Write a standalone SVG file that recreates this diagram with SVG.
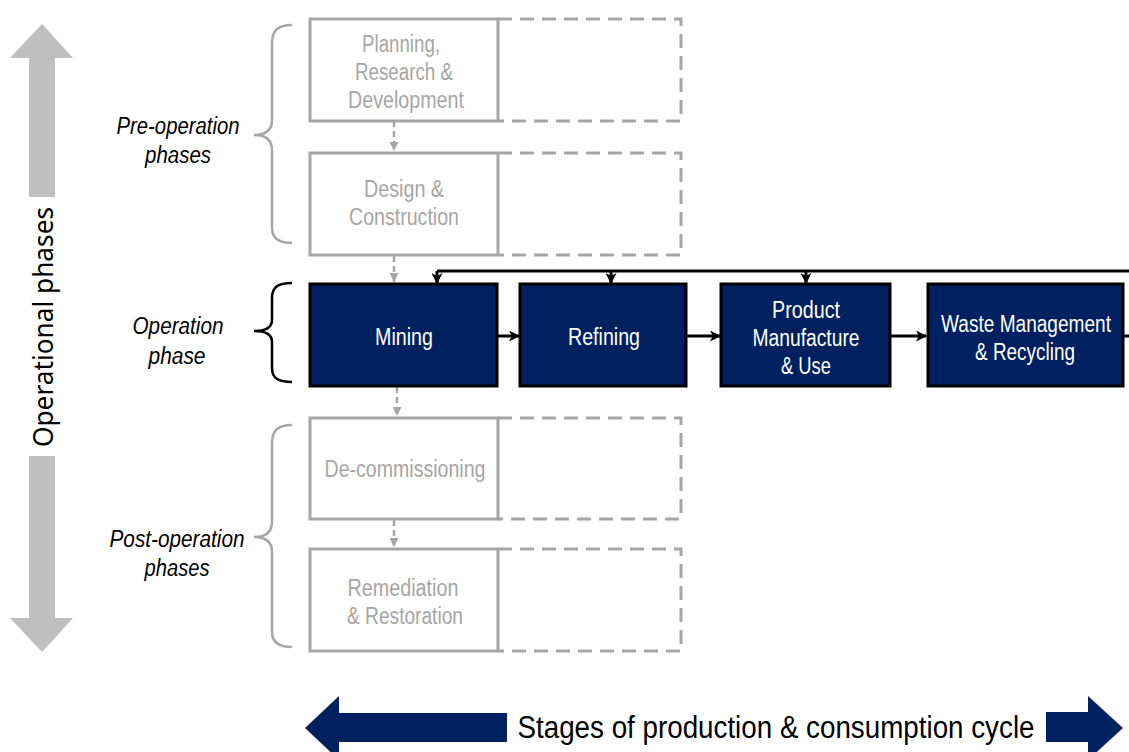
<svg xmlns="http://www.w3.org/2000/svg" width="1129" height="752" viewBox="0 0 1129 752">
<defs>
<style>
.gbox{fill:#fff;stroke:#a6a6a6;stroke-width:3}
.dash{fill:none;stroke:#a6a6a6;stroke-width:3;stroke-dasharray:14 8}
.nbox{fill:#002060;stroke:#000;stroke-width:3}
.gt{font-family:"Liberation Sans Narrow","Liberation Sans",Arial,sans-serif;font-size:23px;fill:#a6a6a6;text-anchor:middle}
.wt{font-family:"Liberation Sans Narrow","Liberation Sans",Arial,sans-serif;font-size:23px;fill:#fff;text-anchor:middle}
.it{font-family:"Liberation Sans Narrow","Liberation Sans",Arial,sans-serif;font-size:23px;font-style:italic;fill:#000;text-anchor:middle}
.brace{fill:none;stroke-width:2.5}
.blk{fill:none;stroke:#000;stroke-width:3}
.gcon{fill:none;stroke:#a6a6a6;stroke-width:2.5;stroke-dasharray:6 4}
</style>
<marker id="ab" markerWidth="11" markerHeight="11" refX="10" refY="5.5" orient="auto" markerUnits="userSpaceOnUse">
<path d="M0,0 L11,5.5 L0,11 L3,5.5 Z" fill="#000"/>
</marker>
<marker id="ag" markerWidth="9" markerHeight="9" refX="9" refY="4.5" orient="auto" markerUnits="userSpaceOnUse">
<path d="M0,0 L9,4.5 L0,9 Z" fill="#a6a6a6"/>
</marker>
</defs>
<rect width="1129" height="752" fill="#fff"/>

<!-- vertical operational phases arrow -->
<g id="operational-axis">
<polygon points="42,24 73,58 55,58 55,197 29,197 29,58 10,58" fill="#bfbfbf"/>
<polygon points="42,652 73,618 55,618 55,456 29,456 29,618 10,618" fill="#bfbfbf"/>
<text transform="translate(53,327) rotate(-90)" x="0" y="0" font-family="'Noto Sans','Open Sans',sans-serif" font-size="28" text-anchor="middle" textLength="240" lengthAdjust="spacingAndGlyphs" fill="#000">Operational phases</text>
</g>

<!-- braces and phase labels -->
<g id="pre-operation-label">
<path class="brace" stroke="#a6a6a6" d="M292,25 C278,25 272,30 272,44 L272,120 C272,130 266,135 254,135 C266,135 272,140 272,150 L272,228 C272,238 278,243 292,243"/>
<text class="it" x="178" y="134" textLength="123" lengthAdjust="spacingAndGlyphs">Pre-operation</text>
<text class="it" x="178" y="163" textLength="66" lengthAdjust="spacingAndGlyphs">phases</text>
</g>
<g id="operation-label">
<path class="brace" stroke="#000" d="M292,283 C278,283 272,287 272,298 L272,320 C272,327 266,331 254,331 C266,331 272,335 272,342 L272,368 C272,378 278,382 292,382"/>
<text class="it" x="178" y="334" textLength="91" lengthAdjust="spacingAndGlyphs">Operation</text>
<text class="it" x="177" y="364" textLength="57" lengthAdjust="spacingAndGlyphs">phase</text>
</g>
<g id="post-operation-label">
<path class="brace" stroke="#a6a6a6" d="M292,425 C278,425 272,430 272,444 L272,522 C272,532 266,537 254,537 C266,537 272,542 272,552 L272,632 C272,642 278,647 292,647"/>
<text class="it" x="177" y="547" textLength="135" lengthAdjust="spacingAndGlyphs">Post-operation</text>
<text class="it" x="177" y="576" textLength="65" lengthAdjust="spacingAndGlyphs">phases</text>
</g>

<!-- connectors -->
<g id="connectors">
<path class="gcon" d="M394,121 V151" marker-end="url(#ag)"/>
<path class="gcon" d="M394,256 V282" marker-end="url(#ag)"/>
<path class="gcon" d="M397,387 V416" marker-end="url(#ag)"/>
<path class="gcon" d="M394,520 V547" marker-end="url(#ag)"/>
<path class="blk" d="M1129,271 H437"/>
<path class="blk" d="M437,271 V283" stroke-width="2.5" marker-end="url(#ab)"/>
<path class="blk" d="M611,271 V283" stroke-width="2.5" marker-end="url(#ab)"/>
<path class="blk" d="M806,271 V283" stroke-width="2.5" marker-end="url(#ab)"/>
<path class="blk" d="M497,336 H519" marker-end="url(#ab)"/>
<path class="blk" d="M686,336 H720" marker-end="url(#ab)"/>
<path class="blk" d="M890,336 H926" marker-end="url(#ab)"/>
<path class="blk" d="M1123,336 H1129" stroke-width="4"/>
</g>

<!-- pre-operation nodes -->
<g id="planning">
<path class="dash" d="M498,19 H681 V121 H498"/>
<rect class="gbox" x="310" y="19" width="188" height="102"/>
<text class="gt" x="401" y="52" textLength="78" lengthAdjust="spacingAndGlyphs">Planning,</text>
<text class="gt" x="404" y="80" textLength="98" lengthAdjust="spacingAndGlyphs">Research &amp;</text>
<text class="gt" x="406" y="108" textLength="116" lengthAdjust="spacingAndGlyphs">Development</text>
</g>
<g id="design">
<path class="dash" d="M498,153 H681 V255 H498"/>
<rect class="gbox" x="310" y="153" width="188" height="102"/>
<text class="gt" x="404" y="197" textLength="80" lengthAdjust="spacingAndGlyphs">Design &amp;</text>
<text class="gt" x="404" y="225" textLength="110" lengthAdjust="spacingAndGlyphs">Construction</text>
</g>

<!-- operation nodes -->
<g id="mining">
<rect class="nbox" x="310" y="284" width="187" height="102"/>
<text class="wt" x="404" y="345" textLength="58" lengthAdjust="spacingAndGlyphs">Mining</text>
</g>
<g id="refining">
<rect class="nbox" x="520" y="284" width="166" height="102"/>
<text class="wt" x="604" y="345" textLength="72" lengthAdjust="spacingAndGlyphs">Refining</text>
</g>
<g id="product">
<rect class="nbox" x="721" y="284" width="169" height="102"/>
<text class="wt" x="806" y="318" textLength="68" lengthAdjust="spacingAndGlyphs">Product</text>
<text class="wt" x="806" y="346" textLength="107" lengthAdjust="spacingAndGlyphs">Manufacture</text>
<text class="wt" x="806" y="374" textLength="50" lengthAdjust="spacingAndGlyphs">&amp; Use</text>
</g>
<g id="waste">
<rect class="nbox" x="928" y="284" width="195" height="102"/>
<text class="wt" x="1026" y="332" textLength="170" lengthAdjust="spacingAndGlyphs">Waste Management</text>
<text class="wt" x="1025" y="360" textLength="100" lengthAdjust="spacingAndGlyphs">&amp; Recycling</text>
</g>

<!-- post-operation nodes -->
<g id="decommissioning">
<path class="dash" d="M498,418 H681 V519 H498"/>
<rect class="gbox" x="310" y="418" width="188" height="101"/>
<text class="gt" x="405" y="477" textLength="161" lengthAdjust="spacingAndGlyphs">De-commissioning</text>
</g>
<g id="remediation">
<path class="dash" d="M498,549 H681 V651 H498"/>
<rect class="gbox" x="310" y="549" width="188" height="102"/>
<text class="gt" x="403" y="596" textLength="111" lengthAdjust="spacingAndGlyphs">Remediation</text>
<text class="gt" x="405" y="624" textLength="116" lengthAdjust="spacingAndGlyphs">&amp; Restoration</text>
</g>

<!-- horizontal stages arrow -->
<g id="stages-axis">
<polygon points="305,728 339,696 339,713 507,713 507,742 339,742 339,760" fill="#002060"/>
<polygon points="1123,728 1088,696 1088,712 1046,712 1046,742 1088,742 1088,760" fill="#002060"/>
<text x="776" y="738" font-family="'Liberation Sans Narrow','Liberation Sans',Arial,sans-serif" font-size="31" text-anchor="middle" textLength="517" lengthAdjust="spacingAndGlyphs" fill="#000">Stages of production &amp; consumption cycle</text>
</g>
</svg>
